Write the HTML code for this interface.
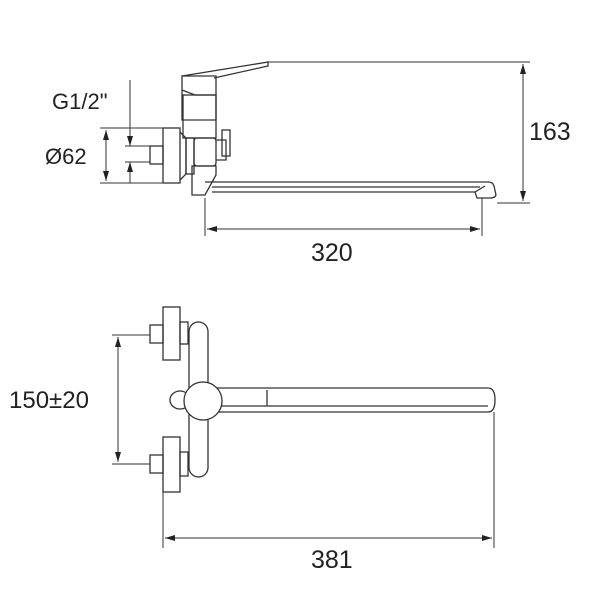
<!DOCTYPE html>
<html><head><style>body{margin:0;background:#fff}svg{display:block}text{font-family:"Liberation Sans",sans-serif;fill:#222}</style></head><body>
<svg width="600" height="600" viewBox="0 0 600 600" xmlns="http://www.w3.org/2000/svg">
<defs><marker id="a" markerWidth="10" markerHeight="6" refX="10" refY="3" orient="auto-start-reverse" markerUnits="userSpaceOnUse"><path d="M0,0L10,3L0,6z" fill="#222"/></marker></defs>
<g fill="none" stroke="#333" stroke-width="1.3">
<rect x="163" y="128" width="17" height="55"/>
<rect x="150" y="146" width="13" height="18"/>
<path d="M180,132 L186,138 L186,174 L180,180"/>
<rect x="186" y="138" width="8" height="36"/>
<rect x="194" y="138" width="22" height="28" rx="3"/>
<path d="M182,90 L182,120 L216,120 L216,76 L182,76 Z"/>
<path d="M182,76 L268,62 L268,66 L214,78"/>
<path d="M182,90 L195,95 L216,95"/>
<rect x="183" y="95" width="33" height="43"/>
<rect x="222" y="130" width="8" height="26"/>
<path d="M216,140 L226,140 L226,160 L216,160"/>
<path d="M192,166 L216,166 L216,175 L205,195 L192,195 Z"/>
<path d="M205,182 L488,182 Q493,182 494,186 L496,195 Q495,198 490,198 L477,198 L475,192 L212,192"/>
<path d="M212,187 L480,187"/>
<path d="M475,192 L485,186"/>
<rect x="163" y="307" width="17" height="53"/>
<rect x="150" y="325" width="13" height="18"/>
<rect x="180" y="322" width="8" height="22"/>
<rect x="163" y="437" width="17" height="55"/>
<rect x="150" y="455" width="13" height="18"/>
<rect x="180" y="452" width="8" height="24"/>
<rect x="189" y="322" width="19" height="155" rx="9.5"/>
<path d="M215,388 L488,388 Q495,388 495,400 Q495,412 488,412 L215,412"/>
<path d="M215,406 L488,406"/>
<path d="M267,390 L267,406"/>
<ellipse cx="180" cy="400" rx="10" ry="9" fill="#fff"/>
<circle cx="203" cy="401" r="19" fill="#fff"/>
</g>
<g stroke="#333" stroke-width="1" fill="none">
<path d="M268,62 L530,62 M497,203 L530,203"/>
<path d="M523,64 L523,201" marker-start="url(#a)" marker-end="url(#a)"/>
<path d="M205,198 L205,236 M482,198 L482,236"/>
<path d="M207,229 L480,229" marker-start="url(#a)" marker-end="url(#a)"/>
<path d="M100,128 L163,128 M100,183 L163,183 M125,146 L150,146 M125,162 L150,162"/>
<path d="M106,130 L106,181" marker-start="url(#a)" marker-end="url(#a)"/>
<path d="M130,80 L130,146" marker-end="url(#a)"/>
<path d="M130,183 L130,162" marker-end="url(#a)"/>
<path d="M112,335 L150,335 M112,464 L150,464"/>
<path d="M118,337 L118,462" marker-start="url(#a)" marker-end="url(#a)"/>
<path d="M163,492 L163,548 M494,412 L494,548"/>
<path d="M165,538 L492,538" marker-start="url(#a)" marker-end="url(#a)"/>
</g>
<text x="52" y="109" font-size="22">G1/2"</text>
<text x="45" y="164" font-size="22">Ø62</text>
<text x="529" y="140" font-size="25">163</text>
<text x="311" y="261" font-size="25">320</text>
<text x="9" y="408" font-size="24">150±20</text>
<text x="311" y="568" font-size="25">381</text>
</svg>
</body></html>
